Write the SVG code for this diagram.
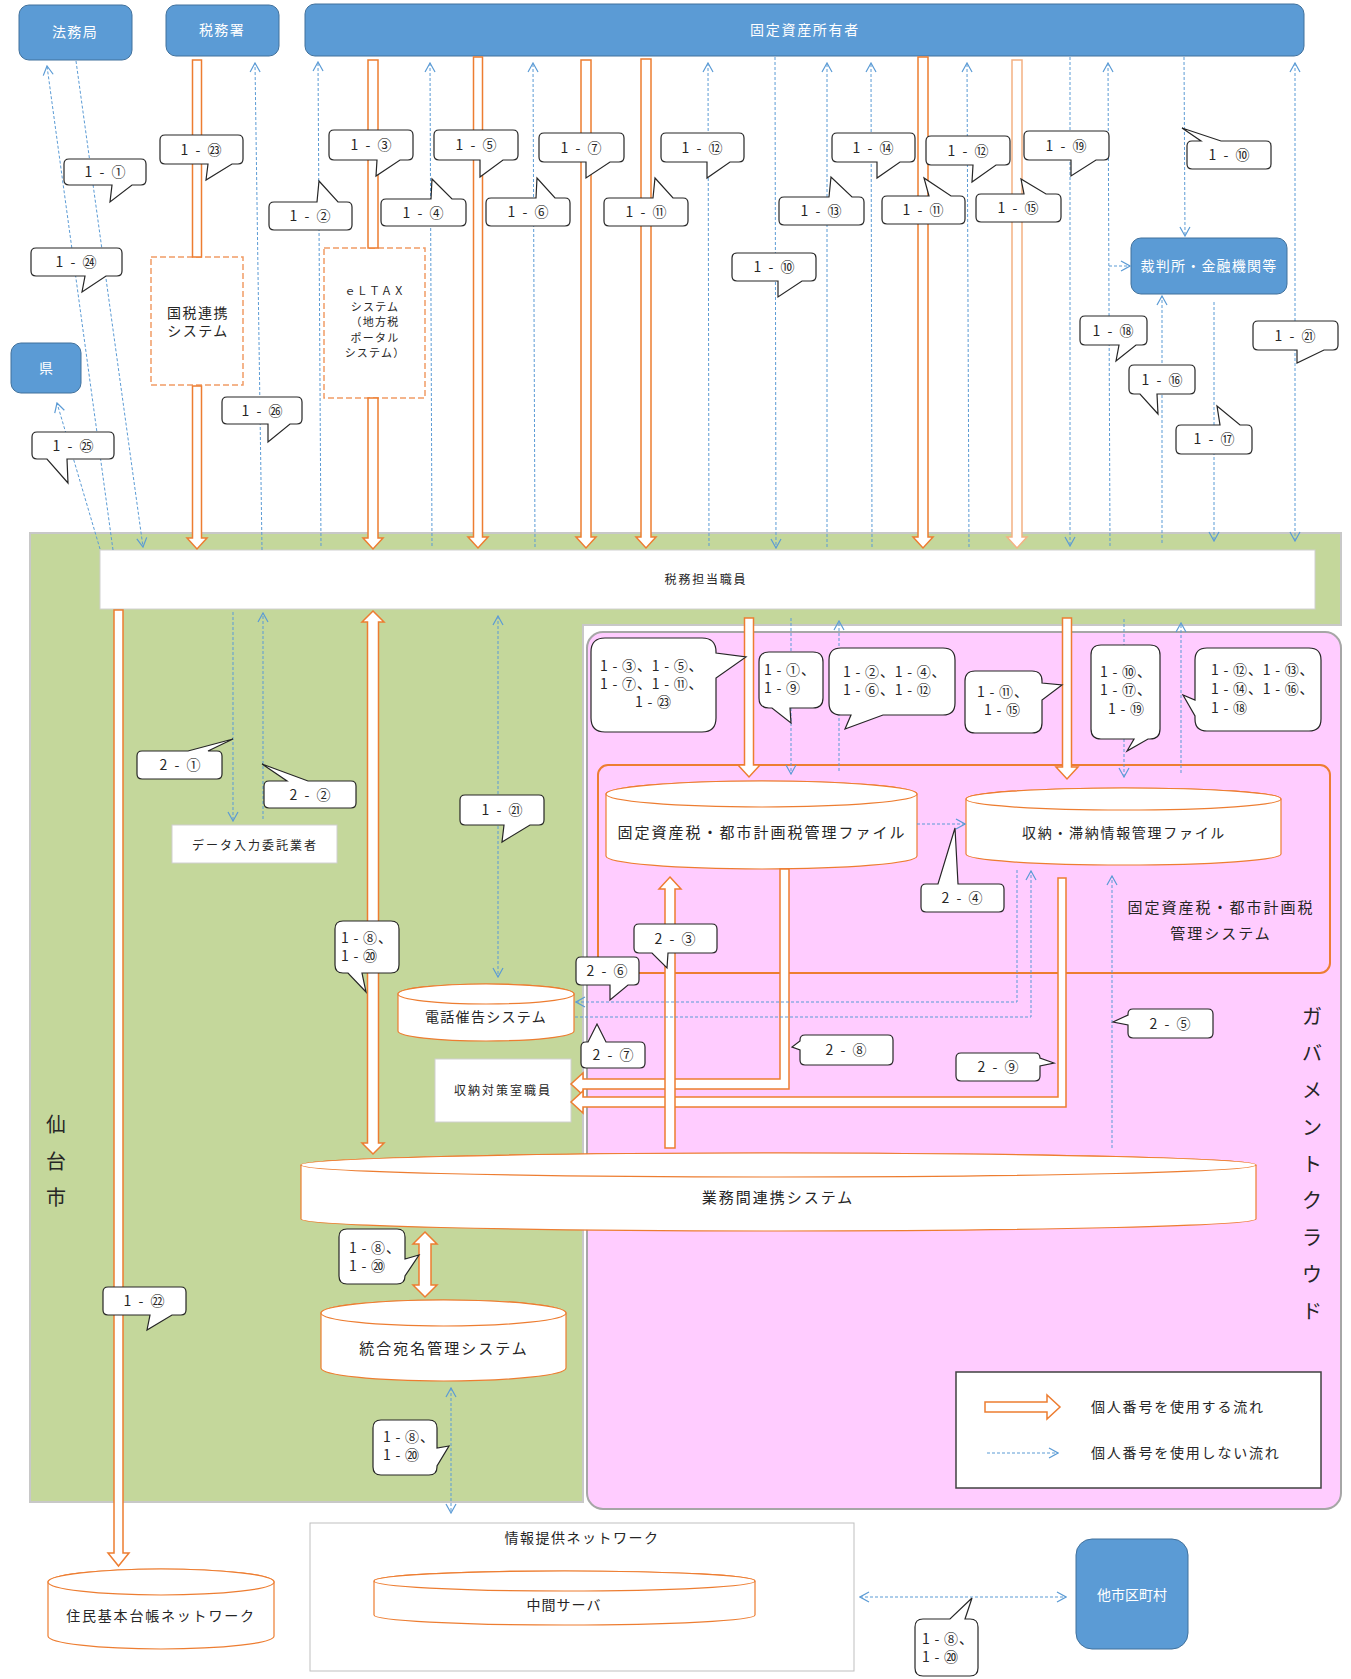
<svg xmlns="http://www.w3.org/2000/svg" width="1351" height="1679" viewBox="0 0 1351 1679" font-family="'Noto Sans CJK JP','Noto Sans',sans-serif">
<defs>
<style>
.bx{fill:#5B9BD5;stroke:#41719C;stroke-width:1}
.bt{fill:#fff;text-anchor:middle;font-size:14px}
.cb{fill:#fff;stroke:#262626;stroke-width:1.2}
.ct{fill:#262626;text-anchor:middle;font-size:14px;letter-spacing:2px}
.cm{fill:#262626;font-size:14px;letter-spacing:0.8px}
.oa{fill:#fff;stroke:#ED7D31;stroke-width:1.5}
.ol{fill:#fff;stroke:#F4B183;stroke-width:1.5}
.cy{fill:#fff;stroke:#ED7D31;stroke-width:1.2}
.db{fill:#fff;stroke:#F19C65;stroke-width:1.5;stroke-dasharray:6 3}
.bl{fill:none;stroke:#5B9BD5;stroke-width:1;stroke-dasharray:3 2}
.tx{fill:#262626;text-anchor:middle}
</style>
<marker id="ah" viewBox="0 0 12 12" refX="11" refY="6" markerWidth="12" markerHeight="12" markerUnits="userSpaceOnUse" orient="auto-start-reverse"><path d="M2,1 L11,6 L2,11" fill="none" stroke="#5B9BD5" stroke-width="1.2"/></marker>
</defs>
<rect width="1351" height="1679" fill="#fff"/>

<g id="sendai">
<polygon points="30,533 1341,533 1341,625 583,625 583,1502 30,1502" fill="#C4D79B" stroke="#C8C8C8" stroke-width="2"/>
<g class="tx" font-size="20" fill="#404040"><text x="56" y="1132">仙</text><text x="56" y="1169">台</text><text x="56" y="1205">市</text></g>
</g>
<g id="zeimu-staff"><rect x="100" y="550" width="1215" height="59" fill="#fff" stroke="#D0D0D0"/><text class="tx" x="706" y="584" font-size="12" letter-spacing="1.8">税務担当職員</text></g>
<g id="gov-cloud">
<rect x="587" y="632" width="754" height="877" rx="16" fill="#FFCCFF" stroke="#A6A6A6" stroke-width="2"/>
<g class="tx" font-size="20" fill="#404040"><text x="1312" y="1024">ガ</text><text x="1312" y="1061">バ</text><text x="1312" y="1098">メ</text><text x="1312" y="1135">ン</text><text x="1312" y="1172">ト</text><text x="1312" y="1208">ク</text><text x="1312" y="1245">ラ</text><text x="1312" y="1282">ウ</text><text x="1312" y="1319">ド</text></g>
</g>
<g id="tax-system"><rect x="598" y="765" width="732" height="208" rx="10" fill="none" stroke="#ED7D31" stroke-width="2"/>
<text class="tx" x="1221" y="913" font-size="15" letter-spacing="2">固定資産税・都市計画税</text><text class="tx" x="1221" y="939" font-size="15" letter-spacing="2">管理システム</text></g>

<g id="houmukyoku"><rect class="bx" x="19" y="5" width="113" height="55" rx="10"/><text class="bt" x="75" y="37" letter-spacing="1.3">法務局</text></g>
<g id="zeimusho"><rect class="bx" x="166" y="5" width="113" height="51" rx="10"/><text class="bt" x="222" y="35" letter-spacing="1.3">税務署</text></g>
<g id="owner"><rect class="bx" x="305" y="4" width="999" height="52" rx="10"/><text class="bt" x="805" y="35" font-size="15" letter-spacing="1.7">固定資産所有者</text></g>
<g id="ken"><rect class="bx" x="11" y="343" width="70" height="50" rx="10"/><text class="bt" x="46" y="373">県</text></g>
<g id="court"><rect class="bx" x="1131" y="238" width="156" height="56" rx="10"/><text class="bt" x="1209" y="271" font-size="13" letter-spacing="1.2">裁判所・金融機関等</text></g>
<g id="other-city"><rect class="bx" x="1076" y="1539" width="112" height="110" rx="16"/><text class="bt" x="1132" y="1600">他市区町村</text></g>

<g id="kokuzei"><rect class="db" x="151" y="257" width="92" height="128"/><text class="tx" x="198" y="318" font-size="14" letter-spacing="1.5">国税連携</text><text class="tx" x="198" y="336" font-size="14" letter-spacing="1.5">システム</text></g>
<g id="eltax"><rect class="db" x="324" y="248" width="101" height="150"/>
<g class="tx" font-size="11" letter-spacing="1.2"><text x="375" y="295">ｅＬＴＡＸ</text><text x="375" y="311">システム</text><text x="375" y="326">（地方税</text><text x="375" y="342">ポータル</text><text x="375" y="357">システム）</text></g></g>

<g id="data-entry"><rect x="172" y="825" width="165" height="38" fill="#fff" stroke="#D0D0D0"/><text class="tx" x="255" y="850" font-size="12" letter-spacing="2">データ入力委託業者</text></g>
<g id="shuno-staff"><rect x="435" y="1059" width="136" height="63" fill="#fff" stroke="#D0D0D0"/><text class="tx" x="503" y="1095" font-size="12" letter-spacing="2">収納対策室職員</text></g>
<g id="info-net"><rect x="310" y="1523" width="544" height="148" fill="#fff" stroke="#BFBFBF"/><text class="tx" x="582" y="1543" font-size="14" letter-spacing="1.5">情報提供ネットワーク</text></g>

<g id="file-kotei"><path class="cy" d="M606,794 A155.5,13 0 0 1 917,794 V856 A155.5,13 0 0 1 606,856 Z"/><ellipse class="cy" cx="761.5" cy="794" rx="155.5" ry="13"/><text class="tx" x="762" y="838" font-size="15" letter-spacing="2">固定資産税・都市計画税管理ファイル</text></g>
<g id="file-shuno"><path class="cy" d="M966,799 A157.5,11 0 0 1 1281,799 V854 A157.5,11 0 0 1 966,854 Z"/><ellipse class="cy" cx="1123.5" cy="799" rx="157.5" ry="11"/><text class="tx" x="1124" y="838" font-size="14" letter-spacing="1.7">収納・滞納情報管理ファイル</text></g>
<g id="denwa"><path class="cy" d="M398,994 A88,10 0 0 1 574,994 V1031 A88,10 0 0 1 398,1031 Z"/><ellipse class="cy" cx="486" cy="994" rx="88" ry="10"/><text class="tx" x="486" y="1022" font-size="14" letter-spacing="1.3">電話催告システム</text></g>
<g id="gyomukan"><path class="cy" d="M301,1165 A477.5,12 0 0 1 1256,1165 V1219 A477.5,12 0 0 1 301,1219 Z"/><ellipse class="cy" cx="778.5" cy="1165" rx="477.5" ry="12"/><text class="tx" x="778" y="1203" font-size="15" letter-spacing="2">業務間連携システム</text></g>
<g id="atena"><path class="cy" d="M321,1313 A122.5,13 0 0 1 566,1313 V1368 A122.5,13 0 0 1 321,1368 Z"/><ellipse class="cy" cx="443.5" cy="1313" rx="122.5" ry="13"/><text class="tx" x="444" y="1354" font-size="15" letter-spacing="2">統合宛名管理システム</text></g>
<g id="juki"><path class="cy" d="M48,1582 A113,13 0 0 1 274,1582 V1636 A113,13 0 0 1 48,1636 Z"/><ellipse class="cy" cx="161" cy="1582" rx="113" ry="13"/><text class="tx" x="161" y="1621" font-size="14" letter-spacing="1.8">住民基本台帳ネットワーク</text></g>
<g id="chukan"><path class="cy" d="M374,1581 A190.5,10 0 0 1 755,1581 V1615 A190.5,10 0 0 1 374,1615 Z"/><ellipse class="cy" cx="564.5" cy="1581" rx="190.5" ry="10"/><text class="tx" x="564" y="1610" font-size="14" letter-spacing="1">中間サーバ</text></g>

<g id="connectors">
<rect class="oa" x="192.5" y="60" width="9" height="197"/>
<path class="oa" d="M192.5,386 H201.5 V538 H207 L197,549 L187,538 H192.5 Z"/>
<rect class="oa" x="368" y="60" width="10" height="188"/>
<path class="oa" d="M368,398 H378 V538 H383 L373,549 L363,538 H368 Z"/>
<path class="oa" d="M473.5,57 H482.5 V537 H488 L478,548 L468,537 H473.5 Z"/>
<path class="oa" d="M581,60 H591 V537 H596 L586,548 L576,537 H581 Z"/>
<path class="oa" d="M641,59 H651 V537 H656 L646,548 L636,537 H641 Z"/>
<path class="oa" d="M918,57 H928 V537 H933 L923,548 L913,537 H918 Z"/>
<path class="ol" d="M1012,60 H1022 V537 H1027 L1017,548 L1007,537 H1012 Z"/>
<path class="oa" d="M114,610 H123 V1553 H129 L118.5,1566 L108,1553 H114 Z"/>
<path class="oa" d="M373,611 L384,622 H378.5 V1143 H384 L373,1154 L362,1143 H367.5 V622 H362 Z"/>
<path class="oa" d="M425,1232 L437,1244 H431 V1285 H437 L425,1297 L413,1285 H419 V1244 H413 Z"/>
<path class="oa" d="M744.5,618 H753.5 V765 H760 L749,777 L738,765 H744.5 Z"/>
<path class="oa" d="M1062.5,618 H1071.5 V767 H1078 L1067,779 L1056,767 H1062.5 Z"/>
<path class="oa" d="M780,869 H789 V1089 H583 V1095 L571,1084 L583,1073 V1079 H780 Z"/>
<path class="oa" d="M1058,878 H1066 V1107 H583 V1113 L571,1102 L583,1091 V1097 H1058 Z"/>
<path class="oa" d="M670,877 L681,889 H675 V1148 H665 V889 H659 Z"/>

<line class="bl" x1="113" y1="550" x2="47" y2="66" marker-end="url(#ah)"/>
<line class="bl" x1="76" y1="61" x2="143" y2="547" marker-end="url(#ah)"/>
<line class="bl" x1="100" y1="549" x2="57" y2="403" marker-end="url(#ah)"/>
<line class="bl" x1="262" y1="550" x2="255" y2="63" marker-end="url(#ah)"/>
<line class="bl" x1="321" y1="546" x2="318" y2="62" marker-end="url(#ah)"/>
<line class="bl" x1="432" y1="546" x2="430" y2="63" marker-end="url(#ah)"/>
<line class="bl" x1="535" y1="547" x2="533" y2="63" marker-end="url(#ah)"/>
<line class="bl" x1="709" y1="546" x2="708" y2="63" marker-end="url(#ah)"/>
<line class="bl" x1="775" y1="57" x2="776" y2="548" marker-end="url(#ah)"/>
<line class="bl" x1="827" y1="547" x2="827" y2="63" marker-end="url(#ah)"/>
<line class="bl" x1="872" y1="547" x2="871" y2="63" marker-end="url(#ah)"/>
<line class="bl" x1="969" y1="547" x2="967" y2="63" marker-end="url(#ah)"/>
<line class="bl" x1="1070" y1="57" x2="1070" y2="546" marker-end="url(#ah)"/>
<line class="bl" x1="1110" y1="546" x2="1108" y2="63" marker-end="url(#ah)"/>
<line class="bl" x1="1109" y1="266" x2="1130" y2="266" marker-end="url(#ah)"/>
<line class="bl" x1="1184" y1="57" x2="1185" y2="236" marker-end="url(#ah)"/>
<line class="bl" x1="1295" y1="63" x2="1295" y2="541" marker-start="url(#ah)" marker-end="url(#ah)"/>
<line class="bl" x1="1162" y1="543" x2="1162" y2="296" marker-end="url(#ah)"/>
<line class="bl" x1="1214" y1="302" x2="1214" y2="541" marker-end="url(#ah)"/>
<line class="bl" x1="233" y1="612" x2="233" y2="821" marker-end="url(#ah)"/>
<line class="bl" x1="263" y1="819" x2="263" y2="613" marker-end="url(#ah)"/>
<line class="bl" x1="498" y1="616" x2="498" y2="977" marker-start="url(#ah)" marker-end="url(#ah)"/>
<line class="bl" x1="791" y1="618" x2="791" y2="774" marker-end="url(#ah)"/>
<line class="bl" x1="839" y1="771" x2="839" y2="621" marker-end="url(#ah)"/>
<line class="bl" x1="1124" y1="619" x2="1124" y2="777" marker-end="url(#ah)"/>
<line class="bl" x1="1181" y1="773" x2="1181" y2="623" marker-end="url(#ah)"/>
<line class="bl" x1="917" y1="824" x2="965" y2="824" marker-end="url(#ah)"/>
<polyline class="bl" points="1017,870 1017,1002 576,1002" marker-end="url(#ah)"/>
<polyline class="bl" points="575,1017 1031,1017 1031,871" marker-end="url(#ah)"/>
<line class="bl" x1="1112" y1="1148" x2="1112" y2="876" marker-end="url(#ah)"/>
<line class="bl" x1="451" y1="1388" x2="451" y2="1513" marker-start="url(#ah)" marker-end="url(#ah)"/>
<line class="bl" x1="860" y1="1597" x2="1066" y2="1597" stroke-width="2" marker-start="url(#ah)" marker-end="url(#ah)"/>
</g>

<g id="callouts">
<path class="cb" d="M69,159 H141 Q146,159 146,164 V180 Q146,185 141,185 H132 L110,202 L112,185 H69 Q64,185 64,180 V164 Q64,159 69,159 Z"/>
<path class="cb" d="M165,135 H238 Q243,135 243,140 V159 Q243,164 238,164 H232 L206,180 L208,164 H165 Q160,164 160,159 V140 Q160,135 165,135 Z"/>
<path class="cb" d="M334,130 H408 Q413,130 413,135 V155 Q413,160 408,160 H400 L376,176 L377,160 H334 Q329,160 329,155 V135 Q329,130 334,130 Z"/>
<path class="cb" d="M439,130 H513 Q518,130 518,135 V155 Q518,160 513,160 H503 L480,177 L480,160 H439 Q434,160 434,155 V135 Q434,130 439,130 Z"/>
<path class="cb" d="M544,133 H619 Q624,133 624,138 V157 Q624,162 619,162 H610 L586,178 L586,162 H544 Q539,162 539,157 V138 Q539,133 544,133 Z"/>
<path class="cb" d="M666,133 H739 Q744,133 744,138 V157 Q744,162 739,162 H730 L707,178 L707,162 H666 Q661,162 661,157 V138 Q661,133 666,133 Z"/>
<path class="cb" d="M837,133 H910 Q915,133 915,138 V157 Q915,162 910,162 H900 L877,178 L877,162 H837 Q832,162 832,157 V138 Q832,133 837,133 Z"/>
<path class="cb" d="M931,136 H1005 Q1010,136 1010,141 V160 Q1010,165 1005,165 H996 L972,182 L973,165 H931 Q926,165 926,160 V141 Q926,136 931,136 Z"/>
<path class="cb" d="M1029,131 H1104 Q1109,131 1109,136 V155 Q1109,160 1104,160 H1096 L1071,176 L1071,160 H1029 Q1024,160 1024,155 V136 Q1024,131 1029,131 Z"/>
<path class="cb" d="M737,253 H811 Q816,253 816,258 V276 Q816,281 811,281 H802 L778,297 L778,281 H737 Q732,281 732,276 V258 Q732,253 737,253 Z"/>
<path class="cb" d="M36,248 H117 Q122,248 122,253 V271 Q122,276 117,276 H106 L82,292 L85,276 H36 Q31,276 31,271 V253 Q31,248 36,248 Z"/>
<path class="cb" d="M37,432 H109 Q114,432 114,437 V454 Q114,459 109,459 H67 L68,483 L47,459 H37 Q32,459 32,454 V437 Q32,432 37,432 Z"/>
<path class="cb" d="M227,397 H297 Q302,397 302,402 V419 Q302,424 297,424 H290 L268,442 L268,424 H227 Q222,424 222,419 V402 Q222,397 227,397 Z"/>
<path class="cb" d="M1085,316 H1142 Q1147,316 1147,321 V340 Q1147,345 1142,345 H1136 L1116,361 L1119,345 H1085 Q1080,345 1080,340 V321 Q1080,316 1085,316 Z"/>
<path class="cb" d="M1134,365 H1190 Q1195,365 1195,370 V389 Q1195,394 1190,394 H1157 L1158,414 L1140,394 H1134 Q1129,394 1129,389 V370 Q1129,365 1134,365 Z"/>
<path class="cb" d="M1258,321 H1333 Q1338,321 1338,326 V345 Q1338,350 1333,350 H1324 L1297,363 L1297,350 H1258 Q1253,350 1253,345 V326 Q1253,321 1258,321 Z"/>
<path class="cb" d="M465,795 H539 Q544,795 544,800 V820 Q544,825 539,825 H530 L502,842 L504,825 H465 Q460,825 460,820 V800 Q460,795 465,795 Z"/>
<path class="cb" d="M343,921 H391 Q399,921 399,929 V965 Q399,973 391,973 H362 L366,992 L348,973 H343 Q335,973 335,965 V929 Q335,921 343,921 Z"/>
<path class="cb" d="M108,1287 H181 Q186,1287 186,1292 V1310 Q186,1315 181,1315 H172 L147,1330 L150,1315 H108 Q103,1315 103,1310 V1292 Q103,1287 108,1287 Z"/>
<path class="cb" d="M581,957 H634 Q639,957 639,962 V980 Q639,985 634,985 H628 L610,1000 L610,985 H581 Q576,985 576,980 V962 Q576,957 581,957 Z"/>
<path class="cb" d="M639,924 H712 Q717,924 717,929 V948 Q717,953 712,953 H668 L667,968 L652,953 H639 Q634,953 634,948 V929 Q634,924 639,924 Z"/>
<path class="cb" d="M347,1229 H397 Q405,1229 405,1237 V1259 L419,1255 L405,1276 Q405,1284 397,1284 H347 Q339,1284 339,1276 V1237 Q339,1229 347,1229 Z"/>
<path class="cb" d="M605,638 H702 Q716,638 716,652 V653 L746,657 L716,678 V718 Q716,732 702,732 H605 Q591,732 591,718 V652 Q591,638 605,638 Z"/>
<path class="cb" d="M769,652 H813 Q823,652 823,662 V698 Q823,708 813,708 H790 L791,723 L772,708 H769 Q759,708 759,698 V662 Q759,652 769,652 Z"/>
<path class="cb" d="M841,648 H943 Q955,648 955,660 V703 Q955,715 943,715 H883 L845,729 L851,715 H841 Q829,715 829,703 V660 Q829,648 841,648 Z"/>
<path class="cb" d="M975,671 H1032 Q1042,671 1042,681 V683 L1062,685 L1042,700 V723 Q1042,733 1032,733 H975 Q965,733 965,723 V681 Q965,671 975,671 Z"/>
<path class="cb" d="M1101,645 H1150 Q1160,645 1160,655 V729 Q1160,739 1150,739 H1148 L1127,751 L1134,739 H1101 Q1091,739 1091,729 V655 Q1091,645 1101,645 Z"/>
<path class="cb" d="M1207,648 H1309 Q1321,648 1321,660 V719 Q1321,731 1309,731 H1207 Q1195,731 1195,719 V716 L1183,695 L1195,700 V660 Q1195,648 1207,648 Z"/>
<path class="cb" d="M142,751 H188 L233,739 L208,751 H217 Q222,751 222,756 V774 Q222,779 217,779 H142 Q137,779 137,774 V756 Q137,751 142,751 Z"/>
<path class="cb" d="M269,781 H287 L262,764 L308,781 H351 Q356,781 356,786 V803 Q356,808 351,808 H269 Q264,808 264,803 V786 Q264,781 269,781 Z"/>
<path class="cb" d="M926,884 H938 L955,828 L958,884 H999 Q1004,884 1004,889 V907 Q1004,912 999,912 H926 Q921,912 921,907 V889 Q921,884 926,884 Z"/>
<path class="cb" d="M586,1042 H588 L597,1024 L606,1042 H640 Q645,1042 645,1047 V1063 Q645,1068 640,1068 H586 Q581,1068 581,1063 V1047 Q581,1042 586,1042 Z"/>
<path class="cb" d="M805,1035 H888 Q893,1035 893,1040 V1060 Q893,1065 888,1065 H805 Q800,1065 800,1060 V1050 L792,1047 L800,1041 V1040 Q800,1035 805,1035 Z"/>
<path class="cb" d="M961,1053 H1035 Q1040,1053 1040,1058 L1054,1063 L1040,1066 V1076 Q1040,1081 1035,1081 H961 Q956,1081 956,1076 V1058 Q956,1053 961,1053 Z"/>
<path class="cb" d="M1133,1009 H1208 Q1213,1009 1213,1014 V1033 Q1213,1038 1208,1038 H1133 Q1128,1038 1128,1033 V1025 L1113,1022 L1128,1015 V1014 Q1128,1009 1133,1009 Z"/>
<path class="cb" d="M923,1619 H950 L972,1598 L965,1619 H970 Q978,1619 978,1627 V1668 Q978,1676 970,1676 H923 Q915,1676 915,1668 V1627 Q915,1619 923,1619 Z"/>
<path class="cb" d="M381,1420 H429 Q437,1420 437,1428 V1448 L449,1446 L437,1466 V1467 Q437,1475 429,1475 H381 Q373,1475 373,1467 V1428 Q373,1420 381,1420 Z"/>
<path class="cb" d="M274,202 H317 L319,181 L338,202 H347 Q352,202 352,207 V225 Q352,230 347,230 H274 Q269,230 269,225 V207 Q269,202 274,202 Z"/>
<path class="cb" d="M386,199 H431 L432,179 L452,199 H461 Q466,199 466,204 V221 Q466,226 461,226 H386 Q381,226 381,221 V204 Q381,199 386,199 Z"/>
<path class="cb" d="M491,198 H536 L537,178 L555,198 H565 Q570,198 570,203 V221 Q570,226 565,226 H491 Q486,226 486,221 V203 Q486,198 491,198 Z"/>
<path class="cb" d="M609,198 H653 L655,178 L673,198 H683 Q688,198 688,203 V221 Q688,226 683,226 H609 Q604,226 604,221 V203 Q604,198 609,198 Z"/>
<path class="cb" d="M784,197 H829 L831,177 L852,197 H859 Q864,197 864,202 V220 Q864,225 859,225 H784 Q779,225 779,220 V202 Q779,197 784,197 Z"/>
<path class="cb" d="M887,196 H929 L924,178 L951,196 H960 Q965,196 965,201 V219 Q965,224 960,224 H887 Q882,224 882,219 V201 Q882,196 887,196 Z"/>
<path class="cb" d="M981,194 H1024 L1021,179 L1046,194 H1056 Q1061,194 1061,199 V217 Q1061,222 1056,222 H981 Q976,222 976,217 V199 Q976,194 981,194 Z"/>
<path class="cb" d="M1192,141 H1201 L1182,128 L1221,141 H1266 Q1271,141 1271,146 V164 Q1271,169 1266,169 H1192 Q1187,169 1187,164 V146 Q1187,141 1192,141 Z"/>
<path class="cb" d="M1181,425 H1220 L1217,406 L1240,425 H1247 Q1252,425 1252,430 V449 Q1252,454 1247,454 H1181 Q1176,454 1176,449 V430 Q1176,425 1181,425 Z"/>

<text class="ct" x="106" y="177">1 - ①</text>
<text class="ct" x="202" y="155">1 - ㉓</text>
<text class="ct" x="372" y="150">1 - ③</text>
<text class="ct" x="477" y="150">1 - ⑤</text>
<text class="ct" x="582" y="153">1 - ⑦</text>
<text class="ct" x="703" y="153">1 - ⑫</text>
<text class="ct" x="874" y="153">1 - ⑭</text>
<text class="ct" x="969" y="156">1 - ⑫</text>
<text class="ct" x="1067" y="151">1 - ⑲</text>
<text class="ct" x="775" y="272">1 - ⑩</text>
<text class="ct" x="77" y="267">1 - ㉔</text>
<text class="ct" x="74" y="451">1 - ㉕</text>
<text class="ct" x="263" y="416">1 - ㉖</text>
<text class="ct" x="1114" y="336">1 - ⑱</text>
<text class="ct" x="1163" y="385">1 - ⑯</text>
<text class="ct" x="1296" y="341">1 - ㉑</text>
<text class="ct" x="503" y="815">1 - ㉑</text>
<text class="ct" x="145" y="1306">1 - ㉒</text>
<text class="ct" x="608" y="976">2 - ⑥</text>
<text class="ct" x="676" y="944">2 - ③</text>
<text class="ct" x="181" y="770">2 - ①</text>
<text class="ct" x="311" y="800">2 - ②</text>
<text class="ct" x="963" y="903">2 - ④</text>
<text class="ct" x="614" y="1060">2 - ⑦</text>
<text class="ct" x="847" y="1055">2 - ⑧</text>
<text class="ct" x="999" y="1072">2 - ⑨</text>
<text class="ct" x="1171" y="1029">2 - ⑤</text>
<text class="ct" x="311" y="221">1 - ②</text>
<text class="ct" x="424" y="218">1 - ④</text>
<text class="ct" x="529" y="217">1 - ⑥</text>
<text class="ct" x="647" y="217">1 - ⑪</text>
<text class="ct" x="822" y="216">1 - ⑬</text>
<text class="ct" x="924" y="215">1 - ⑪</text>
<text class="ct" x="1019" y="213">1 - ⑮</text>
<text class="ct" x="1230" y="160">1 - ⑩</text>
<text class="ct" x="1215" y="444">1 - ⑰</text>

<text class="cm" x="341" y="943">1 - ⑧、</text><text class="cm" x="341" y="961">1 - ⑳</text>
<text class="cm" x="349" y="1253">1 - ⑧、</text><text class="cm" x="349" y="1271">1 - ⑳</text>
<text class="cm" x="383" y="1442">1 - ⑧、</text><text class="cm" x="383" y="1460">1 - ⑳</text>
<text class="cm" x="922" y="1644">1 - ⑧、</text><text class="cm" x="922" y="1662">1 - ⑳</text>
<text class="cm" x="600" y="671">1 - ③、1 - ⑤、</text><text class="cm" x="600" y="689">1 - ⑦、1 - ⑪、</text><text class="cm" x="635" y="707">1 - ㉓</text>
<text class="cm" x="764" y="675">1 - ①、</text><text class="cm" x="764" y="693">1 - ⑨</text>
<text class="cm" x="843" y="677">1 - ②、1 - ④、</text><text class="cm" x="843" y="695">1 - ⑥、1 - ⑫</text>
<text class="cm" x="977" y="697">1 - ⑪、</text><text class="cm" x="984" y="715">1 - ⑮</text>
<text class="cm" x="1100" y="677">1 - ⑩、</text><text class="cm" x="1100" y="695">1 - ⑰、</text><text class="cm" x="1108" y="714">1 - ⑲</text>
<text class="cm" x="1211" y="675">1 - ⑫、1 - ⑬、</text><text class="cm" x="1211" y="694">1 - ⑭、1 - ⑯、</text><text class="cm" x="1211" y="713">1 - ⑱</text>
</g>

<g id="legend">
<rect x="956" y="1372" width="365" height="116" fill="#fff" stroke="#404040" stroke-width="1.5"/>
<path class="oa" d="M985,1402 H1047 V1395 L1060,1407 L1047,1419 V1412 H985 Z"/>
<line class="bl" x1="987" y1="1453" x2="1058" y2="1453" marker-end="url(#ah)"/>
<text x="1091" y="1412" font-size="14" letter-spacing="1.8" fill="#262626">個人番号を使用する流れ</text>
<text x="1091" y="1458" font-size="14" letter-spacing="1.8" fill="#262626">個人番号を使用しない流れ</text>
</g>
</svg>
